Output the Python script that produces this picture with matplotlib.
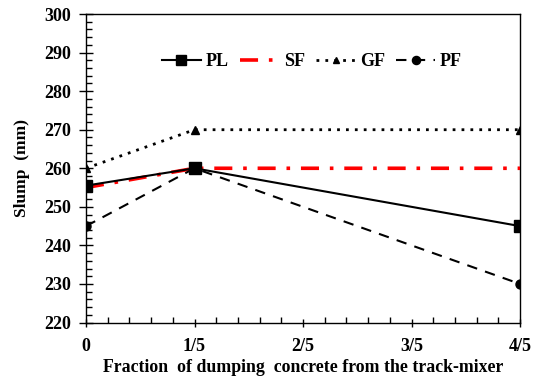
import numpy as np
import matplotlib
matplotlib.use('Agg')
import matplotlib.pyplot as plt
from matplotlib.ticker import MultipleLocator

plt.rcParams['font.family'] = ['Liberation Serif', 'DejaVu Serif']
plt.rcParams['font.weight'] = 'bold'

# ── data ──────────────────────────────────────────────
x_values = [0.0, 0.2, 0.8]
pl_slump = [255.5, 260, 245]
sf_slump = [255, 260, 260]
gf_slump = [260, 270, 270]
pf_slump = [245, 260, 230]

x_ticks = [0.0, 0.2, 0.4, 0.6, 0.8]
x_tick_labels = ["0", "1/5", "2/5", "3/5", "4/5"]
y_ticks = [220, 230, 240, 250, 260, 270, 280, 290, 300]

fig = plt.figure(figsize=(5.34, 3.79), dpi=100)
ax = fig.add_axes([0.161, 0.149, 0.813, 0.814])

ax.plot(x_values, pl_slump, color="black", lw=1.5, marker="s", ms=8, label="PL", zorder=4)
ax.plot(x_values, sf_slump, color="#ff0000", lw=2.6, ls=(0, (5, 3, 1, 3)), label="SF", zorder=3)
ax.plot(x_values, gf_slump, color="black", lw=2.0, ls=(0, (1, 2.2)), marker="^", ms=5.5, label="GF", zorder=3)
ax.plot(x_values, pf_slump, color="black", lw=1.5, ls=(0, (5, 4)), marker="o", ms=6.5, label="PF", zorder=3)

ax.set_xlim(0, 0.8)
ax.set_ylim(220, 300)
ax.set_xticks(x_ticks)
ax.set_xticklabels(x_tick_labels)
ax.set_yticks(y_ticks)
ax.xaxis.set_minor_locator(MultipleLocator(0.04))
ax.yaxis.set_minor_locator(MultipleLocator(2))
ax.tick_params(axis="x", which="major", direction="inout", length=6, width=1, labelsize=13, pad=8)
ax.tick_params(axis="x", which="minor", direction="in", length=4, width=1)
ax.tick_params(axis="y", which="major", direction="inout", length=10, width=1, labelsize=13, pad=6)
ax.tick_params(axis="y", which="minor", direction="in", length=4, width=1)
for label in ax.get_xticklabels() + ax.get_yticklabels():
    label.set_fontweight("bold")
for spine in ax.spines.values():
    spine.set_linewidth(1.0)

ax.set_xlabel("Fraction  of dumping  concrete from the track-mixer", fontsize=12.8, fontweight="bold", labelpad=3)
ax.set_ylabel("Slump  (mm)", fontsize=12.5, fontweight="bold", labelpad=10)

ax.legend(loc="upper center", bbox_to_anchor=(0.52, 0.925), ncol=4, frameon=False,
          handlelength=2.2, columnspacing=0.6, handletextpad=0.25, markerscale=0.9,
          prop={"weight": "bold", "size": 13})

fig.savefig("out.png", dpi=100)
